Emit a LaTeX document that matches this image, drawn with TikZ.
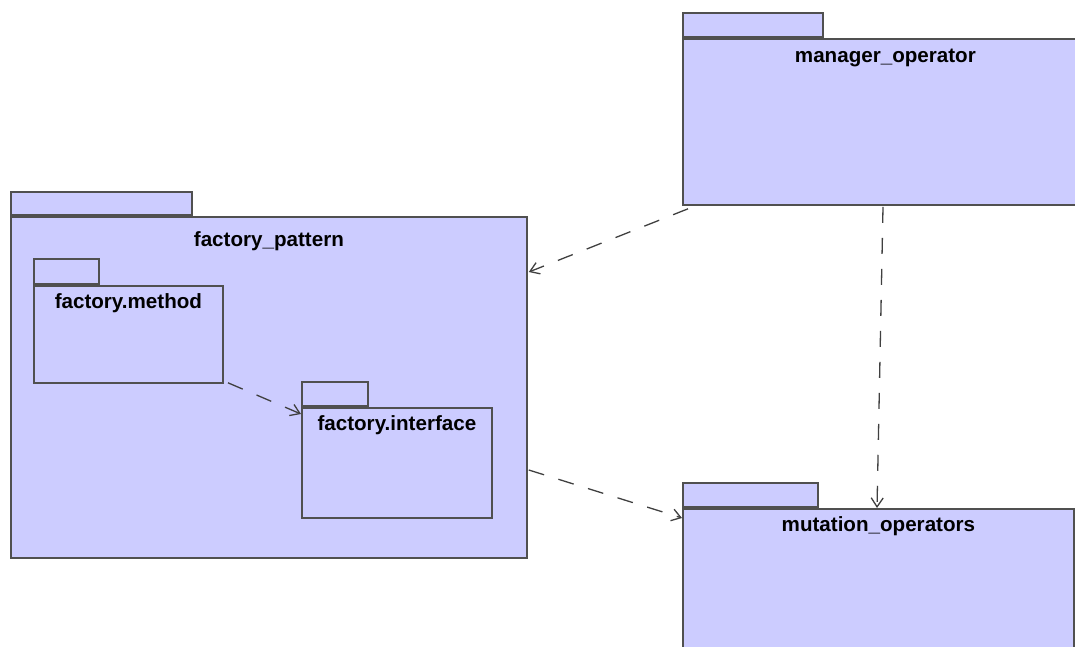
\documentclass[tikz,border=0pt]{standalone}
\usepackage{fontspec}
\setmainfont{Liberation Sans}
\usetikzlibrary{arrows.meta,calc}
\definecolor{pkgfill}{HTML}{CCCCFF}
\definecolor{pkgline}{HTML}{505050}
\definecolor{arrline}{HTML}{404040}
\tikzset{
  pkgbody/.style={draw=pkgline, fill=pkgfill, line width=1.8pt, anchor=north west, inner sep=0pt, rectangle},
  pkgtab/.style={draw=pkgline, fill=pkgfill, line width=1.8pt, anchor=south west, inner sep=0pt, rectangle},
  pkgname/.style={anchor=base, inner sep=0pt, font=\fontsize{20.6}{23}\selectfont\bfseries},
  dep/.style={draw=arrline, line width=1.3pt, dash pattern=on 16pt off 15pt, -{Straight Barb[length=9pt,width=12pt,line width=1.3pt]}}
}
\begin{document}
\begin{tikzpicture}[x=1pt,y=-1pt]
\useasboundingbox (0,0) rectangle (1075,646);
\clip (0,0) rectangle (1075,646);
% manager_operator
\node[pkgtab, minimum width=140pt, minimum height=24pt] (mgrtab) at (682,38) {};
\node[pkgbody, minimum width=405pt, minimum height=166pt] (mgr) at (682,38) {};
\node[pkgname] (mgrname) at ($(mgr.north)+(0,24.5)$) {manager\_operator};
% factory_pattern
\node[pkgtab, minimum width=181pt, minimum height=23pt] (fptab) at (10,216) {};
\node[pkgbody, minimum width=516pt, minimum height=341pt] (fp) at (10,216) {};
\node[pkgname] (fpname) at ($(fp.north)+(0,30)$) {factory\_pattern};
% factory.method
\node[pkgtab, minimum width=65pt, minimum height=25pt] (fmtab) at (33,285) {};
\node[pkgbody, minimum width=189pt, minimum height=97pt] (fm) at (33,285) {};
\node[pkgname] (fmname) at ($(fm.north)+(0,23)$) {factory.method};
% factory.interface
\node[pkgtab, minimum width=66pt, minimum height=24pt] (fitab) at (301,407) {};
\node[pkgbody, minimum width=190pt, minimum height=110pt] (fi) at (301,407) {};
\node[pkgname] (finame) at ($(fi.north)+(0,23)$) {factory.interface};
% mutation_operators
\node[pkgtab, minimum width=135pt, minimum height=24pt] (muttab) at (682,508) {};
\node[pkgbody, minimum width=391pt, minimum height=170pt] (mut) at (682,508) {};
\node[pkgname] (mutname) at ($(mut.north)+(0,23.5)$) {mutation\_operators};
% dependencies
\draw[dep] ($(mgr.south west)+(6,3)$) -- ($(fp.north east)+(1,56)$);
\draw[dep] ($(fm.south west)+(195,-1)$) -- ($(fi.north west)+(0,7)$);
\draw[dep] ($(fp.north east)+(1,254)$) -- ($(mut.north west)+(0,10)$);
\draw[dep] ($(mgr.south west)+(201,1)$) -- ($(mut.north west)+(195,0)$);
\end{tikzpicture}
\end{document}
